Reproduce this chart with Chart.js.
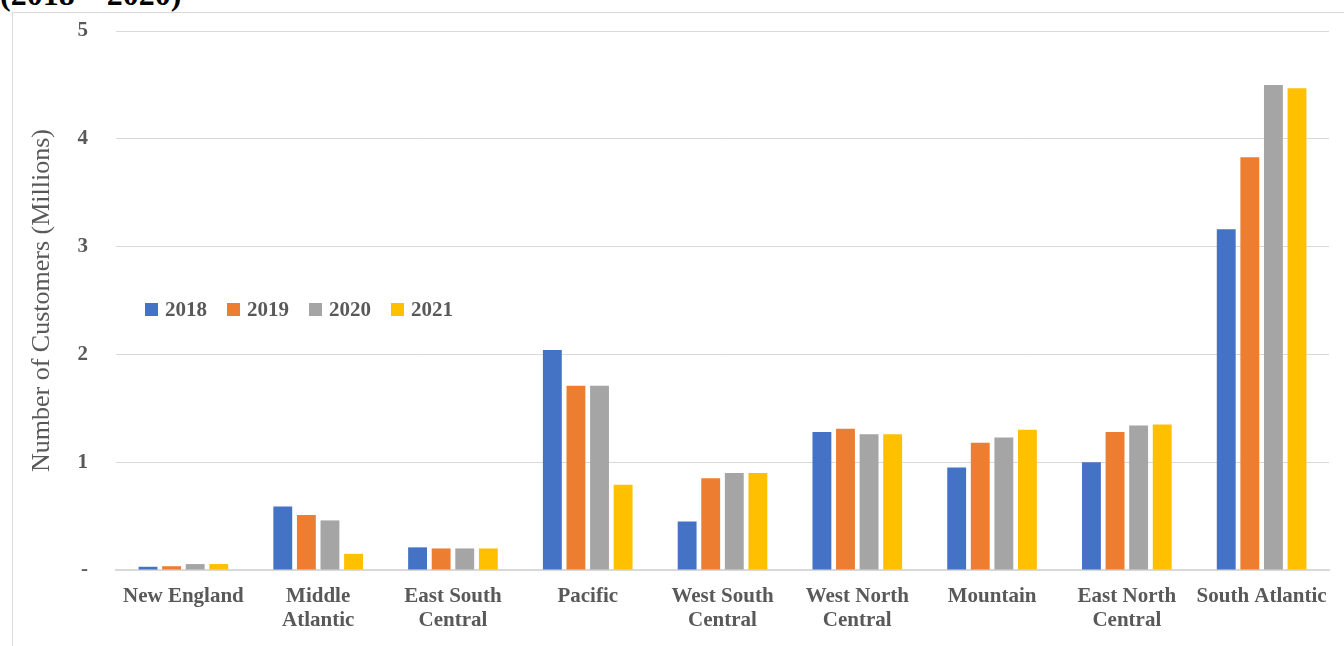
<!DOCTYPE html>
<html>
<head>
<meta charset="utf-8">
<script src="https://cdn.jsdelivr.net/npm/chart.js@4/dist/chart.umd.min.js"></script>
<style>
  body { margin: 0; background: #fff; overflow: hidden; }
  #wrap { position: relative; width: 1344px; height: 646px; }
  #frame { position: absolute; left: 12px; top: 12px; right: -2px; bottom: -2px; border-left: 1px solid #d9d9d9; border-top: 1px solid #d9d9d9; }
  #cut { position: absolute; left: 0; top: -24px; font: bold 32px 'Liberation Serif', serif; color: #000; white-space: nowrap; }
  canvas { position: absolute; left: 0; top: 0; }
</style>
</head>
<body>
<div id="wrap">
  <div id="frame"></div>
  <div id="cut">(2018 – 2020)</div>
  <canvas id="MyChart" width="1344" height="646"></canvas>
</div>
<script>
// categories and values (millions of customers)
const regions = [
  'New England', ['Middle', 'Atlantic'], ['East South', 'Central'], 'Pacific',
  ['West South', 'Central'], ['West North', 'Central'], 'Mountain',
  ['East North', 'Central'], 'South Atlantic'
];
const years = ['2018', '2019', '2020', '2021'];
const y2018 = [0.03, 0.59, 0.21, 2.04, 0.45, 1.28, 0.95, 1.00, 3.16];
const y2019 = [0.035, 0.51, 0.20, 1.71, 0.85, 1.31, 1.18, 1.28, 3.83];
const y2020 = [0.055, 0.46, 0.20, 1.71, 0.90, 1.26, 1.23, 1.34, 4.50];
const y2021 = [0.055, 0.15, 0.20, 0.79, 0.90, 1.26, 1.30, 1.35, 4.47];
const yTicks = [0, 1, 2, 3, 4, 5];

const colors = ['#4472C4', '#ED7D31', '#A5A5A5', '#FFC000'];
const grey = '#595959';
const serif = "'Liberation Serif', 'DejaVu Serif', serif";

// legend sits inside the plot, like the original
const insideLegend = {
  id: 'insideLegend',
  afterDraw(chart) {
    const ctx = chart.ctx;
    let x = 145;
    const y = 310;
    ctx.save();
    ctx.font = 'bold 21px ' + serif;
    ctx.textBaseline = 'middle';
    chart.data.datasets.forEach((ds) => {
      ctx.fillStyle = ds.backgroundColor;
      ctx.fillRect(x, y - 7, 13, 13);
      ctx.fillStyle = grey;
      ctx.fillText(ds.label, x + 20, y + 1);
      x += 82;
    });
    ctx.restore();
  }
};

const series = [y2018, y2019, y2020, y2021];

new Chart(document.getElementById('MyChart').getContext('2d'), {
  type: 'bar',
  data: {
    labels: regions,
    datasets: years.map((yr, i) => ({
      label: yr,
      data: series[i],
      backgroundColor: colors[i],
      categoryPercentage: 0.7,
      barPercentage: 0.8
    }))
  },
  options: {
    responsive: false,
    animation: false,
    layout: { padding: { left: 0, right: 15, top: 31, bottom: 0 } },
    plugins: {
      legend: { display: false },
      tooltip: { enabled: false }
    },
    scales: {
      x: {
        grid: { display: false, drawTicks: false },
        border: { color: '#d9d9d9', width: 2 },
        ticks: {
          color: grey,
          padding: 15,
          maxRotation: 0,
          autoSkip: false,
          font: { family: serif, size: 21, weight: 'bold', lineHeight: 1.12 }
        },
        afterFit(scale) { scale.height = 76; }
      },
      y: {
        min: 0,
        max: 5,
        afterBuildTicks(scale) { scale.ticks = yTicks.map((v) => ({ value: v })); },
        // invisible tick marks push the labels away from the plot
        grid: { color: '#d9d9d9', lineWidth: 1, drawTicks: true, tickLength: 26, tickColor: 'rgba(0,0,0,0)' },
        border: { display: false },
        ticks: {
          color: grey,
          padding: 2,
          font: { family: serif, size: 21, weight: 'bold' },
          callback: (v) => (v === 0 ? '-' : v)
        },
        title: {
          display: true,
          text: 'Number of Customers (Millions)',
          color: grey,
          padding: { top: 27, bottom: 0 },
          font: { family: serif, size: 26 }
        },
        afterFit(scale) { scale.width = 116; }
      }
    }
  },
  plugins: [insideLegend]
});
</script>
</body>
</html>
